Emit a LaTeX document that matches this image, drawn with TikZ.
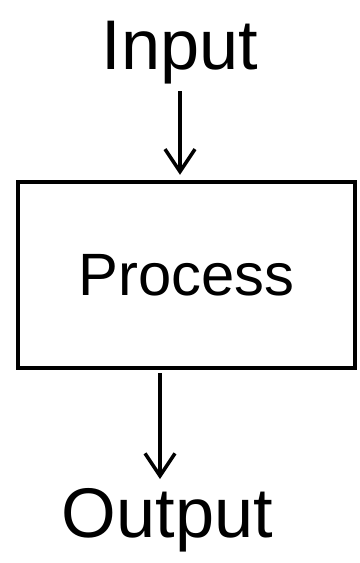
\documentclass[tikz,border=0pt]{standalone}
\usepackage{fontspec}
\setmainfont{Liberation Sans}
\usetikzlibrary{arrows.meta,positioning}

\begin{document}
\begin{tikzpicture}[>={Straight Barb[length=4.5mm,width=6mm,line width=2pt]},
  word/.style={inner sep=2pt,font=\fontsize{40}{44}\selectfont},
  procbox/.style={draw,line width=2.2pt,minimum width=6.74cm,minimum height=3.72cm,
    font=\fontsize{34}{38}\selectfont},
  a/.style={->,line width=2.2pt,shorten <=2pt,shorten >=3pt}]
\useasboundingbox (0,0) rectangle (7.2,-11.26);
\node[word] (in) at (3.6,-1.05) {Input};
\node[procbox] (proc) at (3.73,-5.5) {Process};
\node[word] (out) at (3.35,-10.4) {Output};
\draw[a] (in.south) -- (in.south |- proc.north);
\draw[a] ([xshift=-0.15cm]out.north |- proc.south) -- ([xshift=-0.15cm]out.north);
\end{tikzpicture}
\end{document}
